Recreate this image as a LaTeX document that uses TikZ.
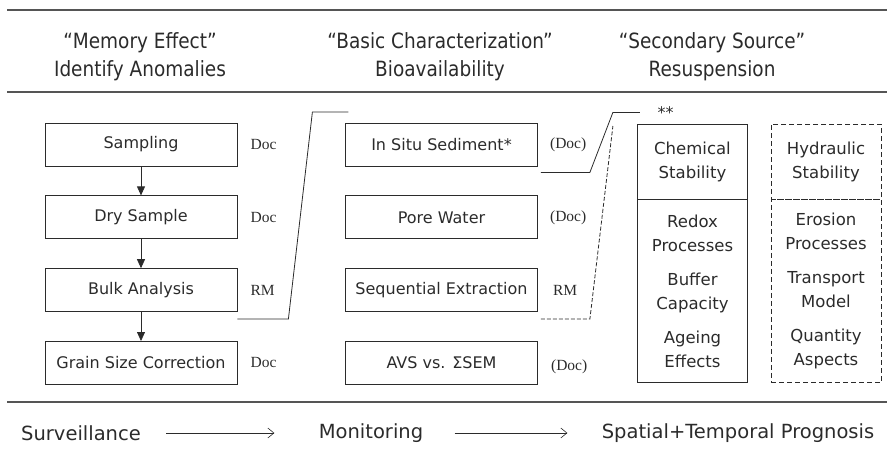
\documentclass[tikz,border=0pt]{standalone}
\usepackage{fontspec}
\setmainfont{DejaVu Sans}
\newfontfamily\headfont[FakeStretch=0.88]{DejaVu Sans}
\newfontfamily\notefont{Liberation Serif}
\usepackage{tikz}
\usetikzlibrary{positioning,arrows.meta}
\definecolor{ink}{HTML}{2B2B2B}
\definecolor{rulegray}{HTML}{555555}

\begin{document}
\begin{tikzpicture}[x=1pt,y=-1pt,color=ink,text=ink,
  font=\fontsize{16}{19}\selectfont,node distance=29pt,
  stepbox/.style={draw,line width=0.8pt,minimum width=192pt,minimum height=43pt,inner sep=2pt},
  note/.style={font=\notefont\fontsize{15.5}{17}\selectfont,inner sep=1pt},
  head/.style={font=\headfont\fontsize{21}{28}\selectfont,align=center},
  stage/.style={font=\fontsize{19.5}{22}\selectfont},
  colbox/.style={draw,line width=0.8pt,minimum width=110pt,align=center,
                 font=\fontsize{16.5}{24}\selectfont},
  longdash/.style={dash pattern=on 5pt off 3pt},
  rule/.style={line width=1.3pt,rulegray},
  ar/.style={-{Triangle[length=9pt,width=8pt]},line width=0.8pt},
  flow/.style={-{Straight Barb[length=6pt,width=10pt]},line width=0.6pt},
  link/.style={line width=0.8pt}]
\useasboundingbox (0,0) rectangle (887,461);

% headings
\draw[rule] (7,10) -- (887,10);
\node[head] (h1) at (140,57) {“Memory Effect”\\Identify Anomalies};
\node[head] (h2) at (440,57) {“Basic Characterization”\\Bioavailability};
\node[head] (h3) at (712,57) {“Secondary Source”\\Resuspension};
\draw[rule] (7,92) -- (887,92);

% surveillance column
\node[stepbox] (s1) at (141,144.5) {Sampling};
\node[stepbox,below=of s1] (s2) {Dry Sample};
\node[stepbox,below=of s2] (s3) {Bulk Analysis};
\node[stepbox,below=of s3] (s4) {Grain Size Correction};
\node[note,right=12pt of s1] (n1) {Doc};
\node[note,right=12pt of s2] (n2) {Doc};
\node[note,right=12pt of s3] (n3) {RM};
\node[note,right=12pt of s4] (n4) {Doc};
\draw[ar] (s1) -- (s2); \draw[ar] (s2) -- (s3); \draw[ar] (s3) -- (s4);

% monitoring column
\node[stepbox] (m1) at (441.5,144.5) {In Situ Sediment*};
\node[stepbox,below=of m1] (m2) {Pore Water};
\node[stepbox,below=of m2] (m3) {Sequential Extraction};
\node[stepbox,below=of m3] (m4) {AVS vs. ΣSEM};
\node[note,right=11pt of m1] (o1) {(Doc)};
\node[note,right=11pt of m2] (o2) {(Doc)};
\node[note,right=14pt of m3] (o3) {RM};
\node[note,right=12pt of m4,yshift=-4pt] (o4) {(Doc)};

% prognosis columns
\node[colbox,minimum height=75pt] (c1) at (692.5,161.5) {Chemical\\Stability};
\node[colbox,minimum height=183pt,below=0pt of c1] (c2)
  {Redox\\Processes\\[10pt]Buffer\\Capacity\\[10pt]Ageing\\Effects};
\node[colbox,longdash,minimum height=75pt] (d1) at (826,161.5) {Hydraulic\\Stability};
\node[colbox,longdash,minimum height=183pt,below=0pt of d1] (d2)
  {Erosion\\Processes\\[10pt]Transport\\Model\\[10pt]Quantity\\Aspects};

% brackets
\coordinate (k1) at ([yshift=-7pt]s3.south east);
\coordinate (k2) at ([xshift=3pt,yshift=-6pt]m1.south east);
\coordinate (k3) at ([xshift=3pt,yshift=-7pt]m3.south east);
\draw[link] (k1) -- ++(51,0) -- ++(24,-207) -- ++(36,0);
\draw[link] (k2) -- ++(49,0) -- ++(23,-60) -- ++(27,0) node[right=14pt] (st) {**};
\draw[link,dash pattern=on 4pt off 2pt] (k3) -- ++(49,0) -- ++(23,-193);

% stages
\draw[rule] (7,402) -- (887,402);
\node[stage] (p1) at (81,433) {Surveillance};
\node[stage] (p2) at (371,433) {Monitoring};
\node[stage] (p3) at (738,433) {Spatial+Temporal Prognosis};
\draw[flow,shorten <=22pt,shorten >=41pt] (p1) -- (p2);
\draw[flow,shorten <=28pt,shorten >=31pt] (p2) -- (p3);
\end{tikzpicture}
\end{document}
